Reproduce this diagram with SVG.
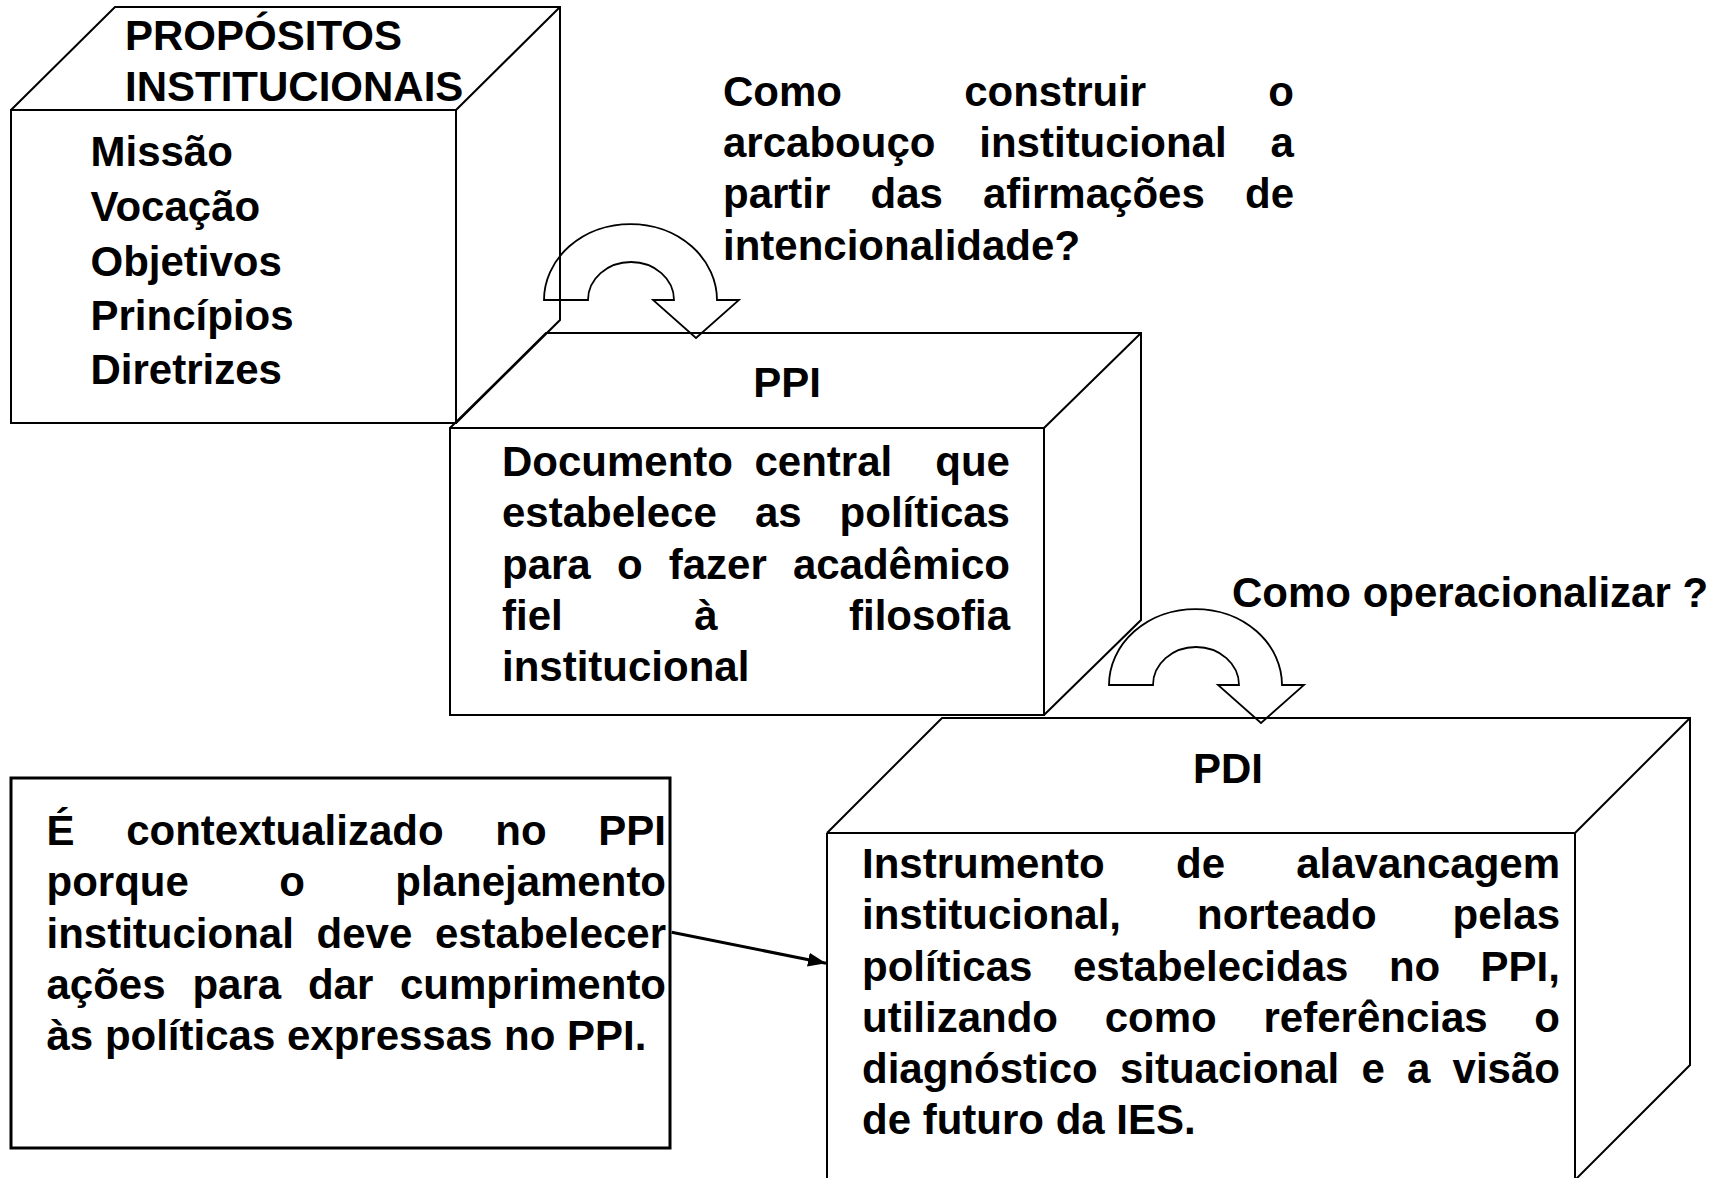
<svg xmlns="http://www.w3.org/2000/svg" width="1731" height="1178" viewBox="0 0 1731 1178">
<style>
.t{font-family:"Liberation Sans",Arial,Helvetica,sans-serif;font-weight:bold;font-size:42px;fill:#000}
.m{text-anchor:middle}
.edge{fill:none;stroke:#000;stroke-width:2;stroke-linejoin:miter}
.box{fill:none;stroke:#000;stroke-width:3}
.uturn{fill:none;stroke:#000;stroke-width:1.8;stroke-linejoin:miter}
.conn{fill:none;stroke:#000;stroke-width:3}
</style>
<defs>
<marker id="ah" markerUnits="userSpaceOnUse" markerWidth="20" markerHeight="14" refX="18" refY="7" orient="auto">
<path d="M0,0 L18,7 L0,14 Z" fill="#000"/>
</marker>
<path id="uarrow" d="M544,300 A86.5,76 0 0 1 717,300 L739,300 L696,338 L653,300 L674,300 A43,38 0 0 0 588,300 Z"/>
</defs>
<rect width="1731" height="1178" fill="#fff"/>

<g id="propositos">
<path class="edge" d="M11,110 H456 V423 H11 Z M11,110 L115,7 H560 V320 L456,423 M456,110 L560,7"/>
<text class="t" x="125" y="50">PROPÓSITOS</text>
<text class="t" x="125" y="101">INSTITUCIONAIS</text>
<text class="t" x="90.5" y="166">Missão</text>
<text class="t" x="90.5" y="221">Vocação</text>
<text class="t" x="90.5" y="276">Objetivos</text>
<text class="t" x="90.5" y="330">Princípios</text>
<text class="t" x="90.5" y="384">Diretrizes</text>
</g>

<g id="ppi">
<path class="edge" d="M450,428 H1044 V715 H450 Z M450,428 L546,333 H1141 V620 L1044,715 M1044,428 L1141,333"/>
<text class="t m" x="787" y="397">PPI</text>
<text class="t" y="476"><tspan x="502">Documento</tspan><tspan x="754.5">central</tspan><tspan x="935.3">que</tspan></text>
<text class="t" y="527"><tspan x="502">estabelece</tspan><tspan x="754.9">as</tspan><tspan x="839.6">políticas</tspan></text>
<text class="t" y="579"><tspan x="502">para</tspan><tspan x="616.9">o</tspan><tspan x="668.7">fazer</tspan><tspan x="792.9">acadêmico</tspan></text>
<text class="t" y="630"><tspan x="502">fiel</tspan><tspan x="694.2">à</tspan><tspan x="849">filosofia</tspan></text>
<text class="t" x="502" y="681">institucional</text>
</g>

<g id="pdi">
<path class="edge" d="M827,833 H1575 V1180 M827,833 V1180 M827,833 L942,718 H1690 V1065 L1575,1180 M1575,833 L1690,718"/>
<text class="t m" x="1228" y="783">PDI</text>
<text class="t" y="878"><tspan x="862">Instrumento</tspan><tspan x="1176">de</tspan><tspan x="1296.2">alavancagem</tspan></text>
<text class="t" y="929"><tspan x="862">institucional,</tspan><tspan x="1197">norteado</tspan><tspan x="1452.6">pelas</tspan></text>
<text class="t" y="981"><tspan x="862">políticas</tspan><tspan x="1072.9">estabelecidas</tspan><tspan x="1388.9">no</tspan><tspan x="1480.6">PPI,</tspan></text>
<text class="t" y="1032"><tspan x="862">utilizando</tspan><tspan x="1104.7">como</tspan><tspan x="1263.5">referências</tspan><tspan x="1534.3">o</tspan></text>
<text class="t" y="1083"><tspan x="862">diagnóstico</tspan><tspan x="1119.9">situacional</tspan><tspan x="1361.5">e</tspan><tspan x="1407.1">a</tspan><tspan x="1452.6">visão</tspan></text>
<text class="t" x="862" y="1134">de futuro da IES.</text>
</g>

<g id="nota">
<rect class="box" x="11" y="778" width="659" height="370"/>
<text class="t" y="845"><tspan x="46.5">É</tspan><tspan x="126.2">contextualizado</tspan><tspan x="495.3">no</tspan><tspan x="598.3">PPI</tspan></text>
<text class="t" y="896"><tspan x="46.5">porque</tspan><tspan x="279.2">o</tspan><tspan x="395.3">planejamento</tspan></text>
<text class="t" y="948"><tspan x="46.5">institucional</tspan><tspan x="316.6">deve</tspan><tspan x="434.9">estabelecer</tspan></text>
<text class="t" y="999"><tspan x="46.5">ações</tspan><tspan x="192.4">para</tspan><tspan x="307.9">dar</tspan><tspan x="400">cumprimento</tspan></text>
<text class="t" x="46.5" y="1050">às políticas expressas no PPI.</text>
</g>

<g id="pergunta1">
<text class="t" y="106"><tspan x="723">Como</tspan><tspan x="964.2">construir</tspan><tspan x="1268.3">o</tspan></text>
<text class="t" y="157"><tspan x="723">arcabouço</tspan><tspan x="979.3">institucional</tspan><tspan x="1270.6">a</tspan></text>
<text class="t" y="208"><tspan x="723">partir</tspan><tspan x="870.5">das</tspan><tspan x="983">afirmações</tspan><tspan x="1245">de</tspan></text>
<text class="t" x="723" y="260">intencionalidade?</text>
</g>

<g id="pergunta2">
<text class="t" x="1232" y="607">Como operacionalizar ?</text>
</g>

<g id="connectors">
<use href="#uarrow" class="uturn"/>
<use href="#uarrow" class="uturn" transform="translate(565,385)"/>
<line class="conn" x1="671.7" y1="932.3" x2="826" y2="963.2" marker-end="url(#ah)"/>
</g>
</svg>
